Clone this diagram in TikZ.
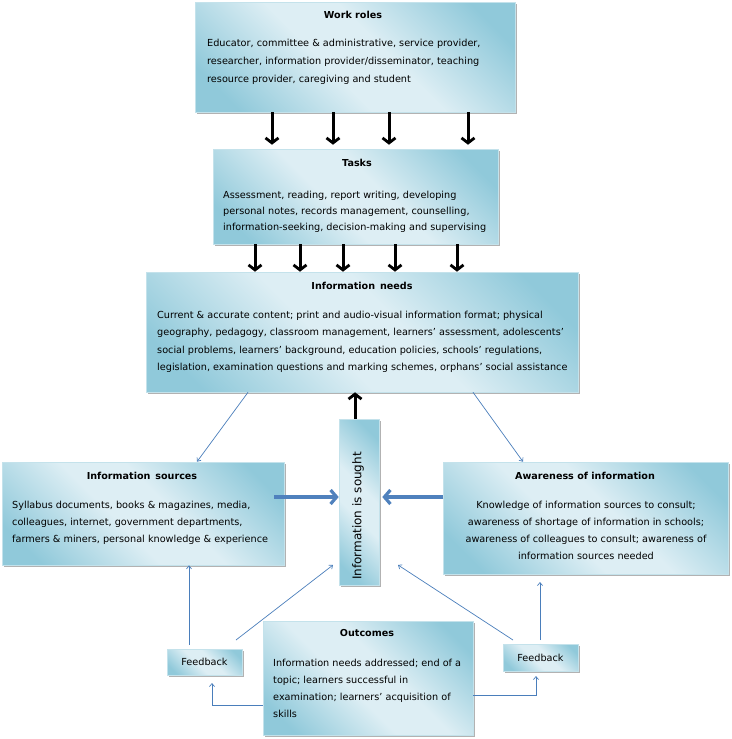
\documentclass[tikz,border=0pt]{standalone}
\usepackage{fontspec}
\setmainfont{DejaVu Sans}
\usetikzlibrary{arrows.meta,shadows,calc}
\definecolor{dk}{HTML}{90C9DA}
\definecolor{lt}{HTML}{DDEEF4}
\definecolor{bline}{HTML}{C4E2EB}
\definecolor{thinc}{HTML}{4A7EBB}
\definecolor{thickc}{HTML}{4F81BD}
\pgfdeclareverticalshading{boxshade}{100bp}{color(0bp)=(dk); color(22bp)=(dk); color(44bp)=(lt); color(56bp)=(lt); color(78bp)=(dk); color(100bp)=(dk)}
\tikzset{
  box/.style={rectangle, inner sep=0pt, draw=bline, line width=0.6pt, shading=boxshade, shading angle=-45,
    drop shadow={shadow xshift=2pt, shadow yshift=-2pt, fill=black, opacity=0.3}},
  ttl/.style={font=\bfseries\fontsize{9.6}{11}\selectfont, inner sep=0pt},
  bdy/.style={font=\fontsize{9.7}{17}\selectfont, align=left, inner sep=0pt, anchor=north west},
  blk/.style={line width=3pt, -{Straight Barb[length=5pt,width=13pt,line width=2.8pt]}},
  thk/.style={line width=4pt, draw=thickc, -{Straight Barb[length=6pt,width=14pt,line width=3.2pt]},
    drop shadow={shadow xshift=1pt, shadow yshift=-1.5pt, fill=black, opacity=0.3}},
  thn/.style={line width=0.7pt, draw=thinc, -{Straight Barb[length=3pt,width=5pt,line width=0.7pt]}},
}
\begin{document}
\begin{tikzpicture}[x=1pt,y=-1pt]
\useasboundingbox (0,0) rectangle (731,739);
% boxes
\node[box, minimum width=320pt, minimum height=110pt] (work) at (355,57) {};
\node[box, minimum width=285pt, minimum height=95pt] (tasks) at (355.5,196.5) {};
\node[box, minimum width=432pt, minimum height=120pt] (needs) at (362,332) {};
\node[box, minimum width=282pt, minimum height=103pt] (src) at (143,513.5) {};
\node[box, minimum width=285pt, minimum height=112pt] (aware) at (585.5,518) {};
\node[box, minimum width=40pt, minimum height=166pt] (sought) at (359,502) {};
\node[box, minimum width=210pt, minimum height=114pt] (out) at (368,678) {};
\node[box, minimum width=75pt, minimum height=26pt] (fbl) at (204.5,662) {};
\node[box, minimum width=75pt, minimum height=27pt] (fbr) at (540.5,657.5) {};
% titles
\node[ttl] (worktitle) at (353,15) {Work roles};
\node[ttl] (taskstitle) at (357,163) {Tasks};
\node[ttl] (needstitle) at (362,286) {Information\, needs};
\node[ttl] (srctitle) at (142,476) {Information\, sources};
\node[ttl] (awaretitle) at (585,476) {Awareness of information};
\node[ttl] (outtitle) at (367,633) {Outcomes};
% bodies
\node[bdy, font=\fontsize{9.7}{18.3}\selectfont] (workbody) at (207,38.5) {Educator, committee \& administrative, service provider,\\researcher, information provider/disseminator, teaching\\resource provider, caregiving and student};
\node[bdy, font=\fontsize{9.7}{16}\selectfont] (tasksbody) at (223,190.5) {Assessment, reading, report writing, developing\\personal notes, records management, counselling,\\information-seeking, decision-making and supervising};
\node[bdy, font=\fontsize{9.7}{17.6}\selectfont] (needsbody) at (157,310.5) {Current \& accurate content; print and audio-visual information format; physical\\geography, pedagogy, classroom management, learners' assessment, adolescents'\\social problems, learners' background, education policies, schools' regulations,\\legislation, examination questions and marking schemes, orphans' social assistance};
\node[bdy] (srcbody) at (12,500.5) {Syllabus documents, books \& magazines, media,\\colleagues, internet, government departments,\\farmers \& miners, personal knowledge \& experience};
\node[bdy, anchor=north, align=center] (awarebody) at (586,500.5) {Knowledge of information sources to consult;\\awareness of shortage of information in schools;\\awareness of colleagues to consult; awareness of\\information sources needed};
\node[bdy] (outbody) at (273,658.5) {Information needs addressed; end of a\\topic; learners successful in\\examination; learners' acquisition of\\skills};
\node[inner sep=0pt, font=\fontsize{9.7}{11}\selectfont] (fbltext) at (fbl.center) {Feedback};
\node[inner sep=0pt, font=\fontsize{9.7}{11}\selectfont] (fbrtext) at (fbr.center) {Feedback};
\node[inner sep=0pt, rotate=90, font=\fontsize{12}{14}\selectfont] (soughttext) at (358,516) {Information is sought};
% black arrows work -> tasks
\foreach \x in {272,333,389,468} {
  \draw[blk] (work.south -| \x,0) -- ($(tasks.north -| \x,0)+(0,-4)$);
}
% black arrows tasks -> needs
\foreach \x in {255,300,343,395,457} {
  \draw[blk] (tasks.south -| \x,0) -- (needs.north -| \x,0);
}
% sought -> needs
\draw[blk] (sought.north -| 355,0) -- (needs.south -| 355,0);
% thick blue arrows
\draw[thk] (src.east |- 0,497) ++(-10,0) -- (sought.west |- 0,497);
\draw[thk] (aware.west |- 0,497) -- ($(sought.east |- 0,497)+(3,0)$);
% thin arrows from needs
\draw[thn] (needs.south -| 248,0) -- (src.north -| 197,0);
\draw[thn] (needs.south -| 473,0) -- (aware.north -| 523,0);
% feedback arrows
\coordinate (fblup) at (189,645);
\coordinate (fbldiag) at (236,640);
\coordinate (fbldiagend) at (333,565);
\coordinate (fbrdiag) at (513,640);
\coordinate (fbrdiagend) at (398,565);
\coordinate (fbrup) at (540,640);
\coordinate (fbrupend) at (540,582);
\draw[thn] (fblup) -- (src.south -| fblup);
\draw[thn] (fbldiag) -- (fbldiagend);
\draw[thn] (fbrdiag) -- (fbrdiagend);
\draw[thn] (fbrup) -- (fbrupend);
% outcomes -> feedback
\coordinate (fblin) at (212,683);
\coordinate (fbrin) at (536,676);
\draw[thn] (out.west |- 0,705) -| (fblin);
\draw[thn] (out.east |- 0,695) -| (fbrin);
\end{tikzpicture}
\end{document}
